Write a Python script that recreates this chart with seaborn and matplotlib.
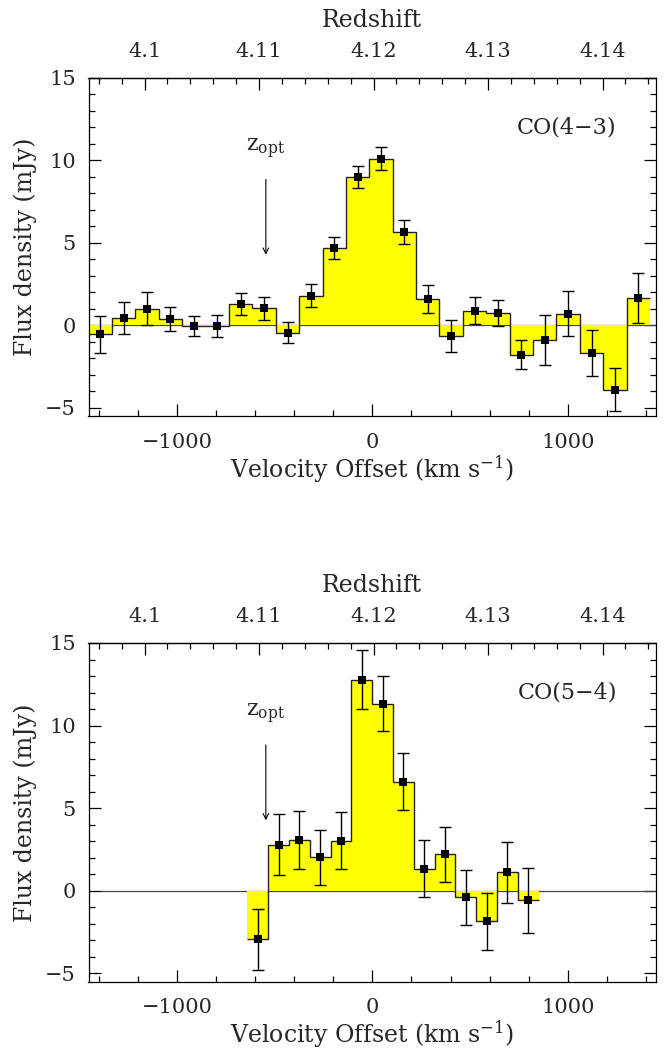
import numpy as np
import matplotlib
matplotlib.use("Agg")
import matplotlib.pyplot as plt
import seaborn as sns
from matplotlib.ticker import MultipleLocator, FixedLocator

# ---------------- data ----------------
# CO(4-3): channel centres (km/s), flux (mJy), 1-sigma errors
v43 = [-1392, -1272, -1153, -1033, -913, -794, -674, -554, -434, -315,
       -195, -75, 44, 164, 283, 403, 523, 642, 762, 882,
       1001, 1121, 1241, 1360]
f43 = [-0.56, 0.44, 0.99, 0.38, -0.04, -0.04, 1.29, 1.03, -0.46, 1.79,
       4.67, 8.96, 10.10, 5.64, 1.59, -0.64, 0.89, 0.74, -1.79, -0.89,
       0.70, -1.67, -3.90, 1.65]
e43 = [1.14, 0.98, 1.00, 0.70, 0.62, 0.66, 0.65, 0.70, 0.64, 0.69,
       0.68, 0.66, 0.72, 0.72, 0.82, 0.97, 0.82, 0.78, 0.87, 1.54,
       1.38, 1.41, 1.31, 1.50]

# CO(5-4)
v54 = [-586, -480, -373, -267, -160, -54, 52, 159, 265, 372,
       478, 585, 691, 798]
f54 = [-2.94, 2.80, 3.10, 2.02, 3.04, 12.78, 11.33, 6.61, 1.35, 2.20,
       -0.38, -1.85, 1.11, -0.58]
e54 = [1.83, 1.82, 1.75, 1.69, 1.71, 1.78, 1.65, 1.74, 1.72, 1.69,
       1.66, 1.73, 1.85, 1.98]

line_names = ["CO(4\u22123)", "CO(5\u22124)"]
v_opt = -545
z_sys = 4.1199
z_ticks = [4.10, 4.11, 4.12, 4.13, 4.14]
z_labels = ["4.1", "4.11", "4.12", "4.13", "4.14"]
C_KMS = 299792.458

# ---------------- style ----------------
sns.set_theme(style="ticks")
plt.rcParams["font.family"] = ["DejaVu Serif"]
plt.rcParams["mathtext.fontset"] = "dejavuserif"
FS_TICK = 15
FS_LAB = 17
FS_TXT = 16

fig = plt.figure(figsize=(6.66, 10.51), dpi=100)
W, H = 666, 1051
axes = [fig.add_axes([88.5 / W, 1 - 416 / H, 567 / W, (416 - 77.7) / H]),
        fig.add_axes([88.5 / W, 1 - 981.7 / H, 567 / W, (981.7 - 643) / H])]


def v2z(v):
    return z_sys + np.asarray(v) * (1 + z_sys) / C_KMS


def z2v(z):
    return (np.asarray(z) - z_sys) * C_KMS / (1 + z_sys)


MAJ, MIN = 8.5, 4.5
for ax, v, f, e, name in zip(axes, [v43, v54], [f43, f54], [e43, e54], line_names):
    v = np.asarray(v, float)
    f = np.asarray(f, float)
    e = np.asarray(e, float)
    width = np.mean(np.diff(v))
    edges = np.concatenate([v - width / 2, [v[-1] + width / 2]])

    ax.hlines(0, -1395, 1452, color="#444444", lw=0.9, zorder=1)
    ax.stairs(f, edges, baseline=0, fill=True, color="#ffff00", zorder=2)
    ax.stairs(f, edges, baseline=None, color="#222222", lw=1.0, zorder=3)
    ax.errorbar(v, f, yerr=e, fmt="none", ecolor="black", elinewidth=1.0,
                capsize=4.5, capthick=1.0, zorder=4)
    sns.scatterplot(x=v, y=f, ax=ax, marker="s", s=32, color="black",
                    edgecolor="black", linewidth=0, zorder=5)

    ax.set_xlim(-1452, 1448)
    ax.set_ylim(-5.5, 15)
    ax.xaxis.set_major_locator(MultipleLocator(1000))
    ax.xaxis.set_minor_locator(MultipleLocator(200))
    ax.yaxis.set_major_locator(MultipleLocator(5))
    ax.yaxis.set_minor_locator(MultipleLocator(1))
    ax.tick_params(which="both", direction="in", top=False, right=True,
                   color="black", labelsize=FS_TICK)
    ax.tick_params(axis="x", pad=12)
    ax.tick_params(axis="y", pad=9)
    ax.tick_params(which="major", length=MAJ, width=0.9)
    ax.tick_params(which="minor", length=MIN, width=0.9)
    ax.set_xticks([-1000, 0, 1000])
    ax.set_xticklabels(["\u22121000", "0", "1000"])
    ax.set_yticks([-5, 0, 5, 10, 15])
    ax.set_yticklabels(["\u22125", "0", "5", "10", "15"])
    for sp in ax.spines.values():
        sp.set_color("black")
        sp.set_linewidth(0.9)

    ax.set_xlabel("Velocity Offset (km s$^{-1}$)", fontsize=FS_LAB, labelpad=1)
    ax.set_ylabel("Flux density (mJy)", fontsize=FS_LAB, labelpad=6)

    sec = ax.secondary_xaxis("top", functions=(v2z, z2v))
    sec.xaxis.set_major_locator(FixedLocator(z_ticks))
    sec.xaxis.set_minor_locator(MultipleLocator(0.002))
    sec.set_xticklabels(z_labels)
    sec.tick_params(which="both", direction="in", labelsize=FS_TICK, pad=12,
                    color="black")
    sec.tick_params(which="major", length=MAJ, width=0.9)
    sec.tick_params(which="minor", length=MIN, width=0.9)
    sec.spines["top"].set_linewidth(0.9)
    sec.set_xlabel("Redshift", fontsize=FS_LAB, labelpad=11)

    ax.text(1250, 12.0, name, ha="right", va="center", fontsize=FS_TXT)
    ax.annotate("", xy=(v_opt, 4.1), xytext=(v_opt, 9.0),
                arrowprops=dict(arrowstyle="->", color="black", lw=0.8,
                                mutation_scale=10))
    ax.text(v_opt, 10.7, "z$_{\\rm opt}$", ha="center", va="center", fontsize=FS_TXT)

fig.savefig("out.png", dpi=100)
